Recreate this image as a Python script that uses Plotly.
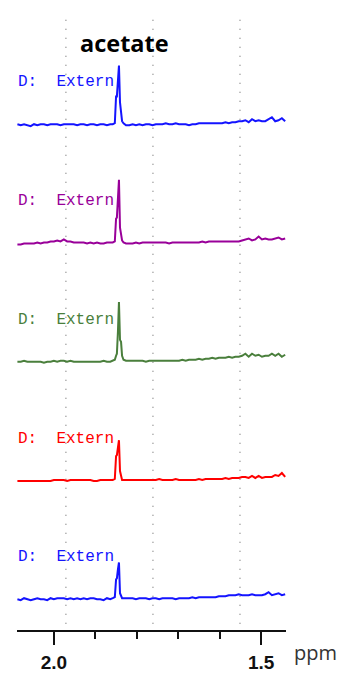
import plotly.graph_objects as go

# Chemical shift sampling points (ppm), shared by all five spectra
ppm = [
    2.088, 2.080, 2.072, 2.064, 2.056, 2.048, 2.040, 2.032, 2.024, 2.016,
    2.008, 2.000, 1.992, 1.984, 1.976, 1.968, 1.960, 1.952, 1.944, 1.936,
    1.928, 1.920, 1.912, 1.904, 1.896, 1.888, 1.880, 1.872, 1.864, 1.858,
    1.853, 1.850, 1.848, 1.8455, 1.843, 1.8405, 1.838, 1.8355, 1.832,
    1.826, 1.818, 1.810, 1.802, 1.794, 1.786, 1.778, 1.770, 1.762,
    1.754, 1.746, 1.738, 1.730, 1.722, 1.714, 1.706, 1.698, 1.690,
    1.682, 1.674, 1.666, 1.658, 1.650, 1.642, 1.634, 1.626, 1.618,
    1.610, 1.602, 1.594, 1.586, 1.578, 1.570, 1.562, 1.554, 1.546,
    1.538, 1.530, 1.522, 1.514, 1.506, 1.498, 1.490, 1.482, 1.474,
    1.466, 1.458, 1.450, 1.442,
]

# Intensities (arbitrary units) for each spectrum, top to bottom
spec_1 = [
    0, -1, 0, -1, -2, 0, -1, 0, 0, -1, 0, 0, 0, -1, 0, 0, 0, 0, -1, 0,
    0, -1, 0, 0, -1, 0, 0, -1, 0, 0,
    1, 28, 28, 40, 59, 22, 8, 3, 1,
    -1, -1, 0, -1, 0, -1, 0, 0, -1,
    0, 0, 0, 1, 0, 0, 1, 0, 0,
    0, -1, 0, 0, 1, 1, 1, 1, 1,
    1, 1, 1, 2, 1, 2, 2, 3, 3,
    4, 2, 5, 3, 4, 3, 3, 5, 7,
    3, 4, 6, 3,
]
spec_2 = [
    -2, -2, -1, -1, -1, -1, 0, -1, 0, 0, 1, 1, 2, 1, 3, 1, 1, 0, 0, 0,
    0, -1, 0, -1, 0, -1, -1, 0, 0, 0,
    1, 24, 25, 40, 63, 15, 6, 2, 0,
    -1, -1, -1, 0, -1, 0, 0, 0, 0,
    0, 0, 0, 0, -1, 0, 0, 0, 0,
    0, 0, 0, 0, 0, 1, 0, 1, 1,
    1, 1, 1, 1, 1, 1, 1, 1, 2,
    3, 4, 2, 3, 6, 3, 4, 3, 3,
    4, 5, 3, 4,
]
spec_3 = [
    0, 0, 1, 0, 0, 0, 0, 0, -1, 0, 0, 1, 0, 1, 1, 0, 1, 0, 0, 0,
    0, 0, 0, 0, 0, 0, 1, 0, 0, 1,
    2, 6, 8, 30, 60, 22, 20, 6, 2,
    1, 1, 1, 1, 1, 1, 0, 1, 1,
    1, 1, 1, 1, 1, 1, 1, 1, 2,
    1, 2, 2, 2, 3, 2, 3, 3, 4,
    3, 4, 4, 4, 5, 4, 5, 5, 6,
    8, 5, 8, 6, 7, 5, 6, 6, 8,
    6, 8, 5, 7,
]
spec_4 = [
    0, 0, 0, 0, 0, 0, 0, 0, 0, 0, 0, 1, 1, 1, 1, 0, 1, 1, 1, 1,
    1, 1, 1, 0, 0, 1, 1, 1, 1, 1,
    2, 25, 26, 35, 41, 10, 3, 1, 1,
    1, 1, 1, 1, 1, 1, 1, 1, 1,
    1, 2, 1, 1, 1, 1, 2, 1, 1,
    1, 1, 1, 1, 2, 1, 2, 2, 2,
    2, 2, 2, 3, 2, 3, 3, 3, 4,
    4, 3, 5, 3, 5, 3, 4, 4, 4,
    6, 5, 8, 4,
]
spec_5 = [
    0, -1, 1, 0, -1, 0, 1, 0, 0, -1, 1, 0, 1, 1, 1, 0, 1, 0, 1, 0,
    1, 0, 1, 1, 0, 0, -1, 1, 0, 1,
    2, 20, 21, 30, 37, 6, 2, 1, 1,
    1, 1, 1, 0, 1, 1, 1, 0, 1,
    1, 0, 1, 1, 1, 1, 0, 1, 1,
    1, 1, 2, 1, 2, 2, 2, 2, 2,
    2, 3, 3, 3, 4, 4, 4, 5, 4,
    4, 4, 5, 4, 4, 4, 5, 7, 4,
    5, 6, 4, 5,
]

spectra = [spec_1, spec_2, spec_3, spec_4, spec_5]
labels = ["D:  Extern"] * 5
colors = ["#1414ff", "#990099", "#4a7f3c", "#ff0000", "#1414ff"]
# vertical stacking offsets of each spectrum
offsets = [509, 390, 270, 150, 31]
label_lift = 42

# dotted reference lines (ppm)
guide_ppm = [1.971, 1.761, 1.551]

x_range = [2.089, 1.44]

fig = go.Figure()

for spec, off, col in zip(spectra, offsets, colors):
    fig.add_trace(go.Scatter(
        x=ppm, y=[v + off for v in spec],
        mode="lines", line=dict(color=col, width=2),
        hoverinfo="skip", showlegend=False,
    ))

for g in guide_ppm:
    fig.add_shape(
        type="line", xref="x", yref="paper",
        x0=g, x1=g, y0=0.01, y1=0.976,
        line=dict(color="#777777", width=1.2, dash="1px,8px"),
        layer="below",
    )

# spectrum captions, anchored at the left edge of the plot area
for lab, off, col in zip(labels, offsets, colors):
    fig.add_annotation(
        x=-0.004, y=off + label_lift, xref="paper", yref="y",
        text=lab, showarrow=False, xanchor="left", yanchor="middle",
        font=dict(family="Courier New, Liberation Mono, monospace",
                  size=16, color=col),
    )

fig.add_annotation(
    x=0.398, y=0.932, xref="paper", yref="paper",
    text="<b>acetate</b>", showarrow=False,
    xanchor="center", yanchor="middle",
    font=dict(family="Open Sans", size=23.5, color="#000000"),
)

fig.add_annotation(
    x=1.108, y=-0.036, xref="paper", yref="paper",
    text="ppm", showarrow=False, xanchor="center", yanchor="middle",
    font=dict(family="Open Sans", size=20, color="#333333"),
)

fig.update_layout(
    width=342, height=673,
    margin=dict(l=17, r=56, t=0, b=39),
    paper_bgcolor="white", plot_bgcolor="white",
    xaxis=dict(
        range=x_range, showgrid=False, zeroline=False,
        showline=True, linecolor="#111111", linewidth=1.6,
        ticks="outside", ticklen=13, tickwidth=1.5, tickcolor="#111111",
        tickvals=[2.0, 1.5], ticktext=["2.0", "1.5"],
        tickfont=dict(family="Liberation Sans", size=19, color="#111111",
                      weight="bold"),
        ticklabelstandoff=1,
        minor=dict(tickvals=[1.9, 1.8, 1.7, 1.6], ticks="outside",
                   ticklen=7, tickwidth=1.5, tickcolor="#111111"),
        fixedrange=True,
    ),
    yaxis=dict(range=[0, 634], visible=False, fixedrange=True),
)

fig.write_html("out.html")
